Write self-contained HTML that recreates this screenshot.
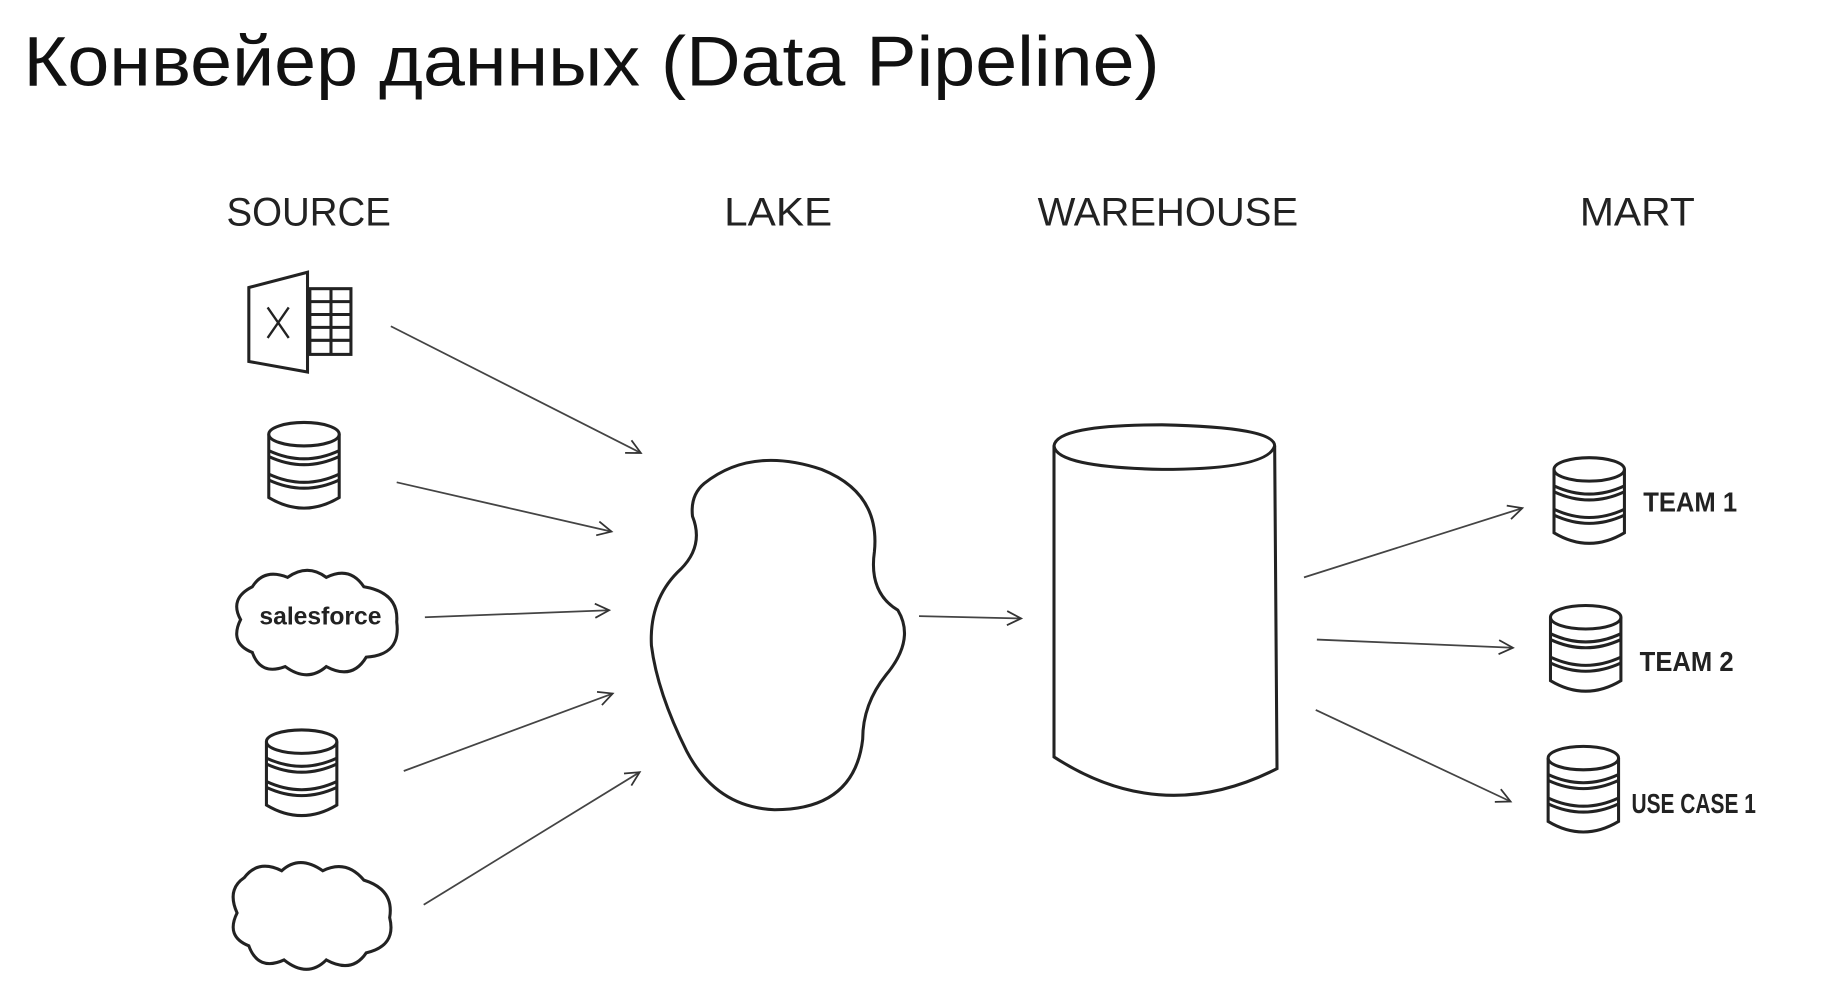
<!DOCTYPE html>
<html><head><meta charset="utf-8"><style>
html,body{margin:0;padding:0;background:#fff;}
svg{display:block}
</style></head><body>
<svg width="1831" height="1001" viewBox="0 0 1560 853" preserveAspectRatio="none" xmlns="http://www.w3.org/2000/svg">
<defs>
<marker id="ah" markerWidth="16" markerHeight="16" refX="14" refY="8" orient="auto" markerUnits="userSpaceOnUse">
<path d="M2,2 L14,8 L2,14" fill="none" stroke="#333" stroke-width="1.5"/>
</marker>
<g id="db" fill="#fff" stroke="#222" stroke-width="2.6">
<path d="M1,12 L1,66 Q31,84 61,66 L61,12"/>
<ellipse cx="31" cy="12" rx="30" ry="10"/>
<path d="M1,26 Q31,40 61,26 M1,31 Q31,45 61,31 M1,46 Q31,60 61,46 M1,51 Q31,65 61,51" fill="none"/>
</g>
</defs>
<rect width="1560" height="853" fill="#fff"/>
<text x="20" y="73" font-family="Liberation Sans, sans-serif" font-size="60" fill="#111" textLength="968" lengthAdjust="spacingAndGlyphs">Конвейер данных (Data Pipeline)</text>
<g font-family="Liberation Sans, sans-serif" font-size="34" fill="#222">
<text x="193" y="192" textLength="140" lengthAdjust="spacingAndGlyphs">SOURCE</text>
<text x="617" y="192" textLength="92" lengthAdjust="spacingAndGlyphs">LAKE</text>
<text x="884" y="192" textLength="222" lengthAdjust="spacingAndGlyphs">WAREHOUSE</text>
<text x="1346" y="192" textLength="98" lengthAdjust="spacingAndGlyphs">MART</text>
</g>
<!-- excel -->
<g fill="none" stroke="#222" stroke-width="2.6">
<path d="M212,245 L262,232 L262,317 L212,308 Z" fill="#fff"/>
<rect x="264" y="246" width="35" height="56"/>
<path d="M264,257 H299 M264,268 H299 M264,279 H299 M264,290 H299 M282,246 V302"/>
<path d="M228,262 L246,288 M246,262 L228,288" stroke-width="2"/>
</g>
<use href="#db" x="228" y="358"/>
<use href="#db" x="226" y="620"/>
<use href="#db" x="1323" y="388"/>
<use href="#db" x="1320" y="514"/>
<use href="#db" x="1318" y="634"/>
<!-- salesforce cloud -->
<path d="M215,500 Q225,484 245,492 Q262,480 278,492 Q298,482 310,500 Q340,505 338,530 Q342,558 312,560 Q300,580 278,568 Q262,582 243,568 Q222,576 215,556 Q195,548 205,528 Q195,510 215,500 Z" fill="none" stroke="#222" stroke-width="2.6"/>
<text x="221" y="532" font-family="Liberation Sans, sans-serif" font-size="21" font-weight="bold" fill="#222" textLength="104" lengthAdjust="spacingAndGlyphs">salesforce</text>
<!-- plain cloud -->
<path d="M208,748 Q220,732 240,742 Q255,728 275,742 Q295,732 310,750 Q336,758 332,782 Q338,806 312,812 Q300,830 278,818 Q262,834 242,818 Q220,828 212,806 Q192,798 202,778 Q193,758 208,748 Z" fill="none" stroke="#222" stroke-width="2.6"/>
<!-- lake -->
<path d="M600,412 Q640,380 700,400 Q750,420 745,470 Q740,505 765,520 Q780,545 755,575 Q735,600 735,630 Q728,690 660,690 Q610,688 585,640 Q560,590 555,550 Q553,510 580,485 Q600,465 590,440 Q588,422 600,412 Z" fill="none" stroke="#222" stroke-width="2.6"/>
<!-- warehouse -->
<g fill="none" stroke="#222" stroke-width="2.6">
<path d="M898,380 L898,645 Q990,705 1088,655 L1086,380"/>
<path d="M898,380 Q900,362 990,362 Q1086,364 1086,380 Q1080,400 990,400 Q900,398 898,380 Z"/>
</g>
<text x="1400" y="436" font-family="Liberation Sans, sans-serif" font-size="24" font-weight="bold" fill="#222" textLength="80" lengthAdjust="spacingAndGlyphs">TEAM 1</text>
<text x="1397" y="572" font-family="Liberation Sans, sans-serif" font-size="24" font-weight="bold" fill="#222" textLength="80" lengthAdjust="spacingAndGlyphs">TEAM 2</text>
<text x="1390" y="693" font-family="Liberation Sans, sans-serif" font-size="24" font-weight="bold" fill="#222" textLength="106" lengthAdjust="spacingAndGlyphs">USE CASE 1</text>
<g stroke="#444" stroke-width="1.5" marker-end="url(#ah)">
<line x1="333" y1="278" x2="546" y2="386"/>
<line x1="338" y1="411" x2="521" y2="453"/>
<line x1="362" y1="526" x2="519" y2="520"/>
<line x1="344" y1="657" x2="522" y2="591"/>
<line x1="361" y1="771" x2="545" y2="658"/>
<line x1="783" y1="525" x2="870" y2="527"/>
<line x1="1111" y1="492" x2="1297" y2="433"/>
<line x1="1122" y1="545" x2="1289" y2="552"/>
<line x1="1121" y1="605" x2="1287" y2="683"/>
</g>
</svg>
</body></html>
